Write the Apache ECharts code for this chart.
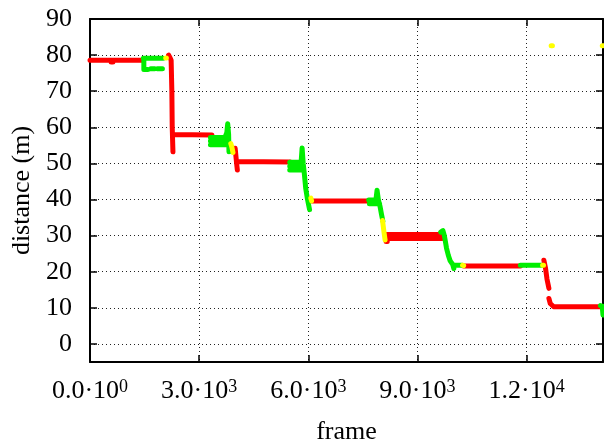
<!DOCTYPE html>
<html>
<head>
<meta charset="utf-8">
<script src="https://cdn.jsdelivr.net/npm/echarts@6/dist/echarts.min.js"></script>
<style>html,body{margin:0;padding:0;background:#fff}#c{width:604px;height:446px}</style>
</head>
<body>
<div id="c"></div>
<script>
// x tick values and their labels (mantissa · 10^exponent)
var xTickValues = [0, 3000, 6000, 9000, 12000];
var xTickMant = ['0.0', '3.0', '6.0', '9.0', '1.2'];
var xTickExp = ['0', '3', '3', '3', '4'];
var yTickValues = [0, 10, 20, 30, 40, 50, 60, 70, 80, 90];

// red segments (null = break)
var redData = [
  [0, 78.6], [1460, 78.6], null,
  [580, 78.1], [630, 78.1], null,
  [2160, 80], [2200, 79.3], [2230, 78.6], [2250, 70], [2260, 60], [2280, 53.2], null,
  [2265, 58], [3350, 57.9], null,
  [3990, 54.2], [4030, 50], [4050, 48.2], null,
  [4030, 50.5], [5500, 50.4], null,
  [6100, 39.6], [7660, 39.6], null,
  [8120, 30.3], [9680, 30.3], null,
  [8120, 29.2], [9680, 29.2], null,
  [8140, 28.4], [8170, 28.4], null,
  [10270, 21.6], [11830, 21.6], null,
  [12475, 23.2], [12520, 21], [12560, 18], [12613, 15.4], null,
  [12613, 12.6], [12650, 11.2], [12745, 10.3], [14040, 10.3]
];

// green segments
var greenData = [
  [1465, 79.1], [2010, 79.1], null,
  [1480, 78.5], [1480, 76], [1590, 76], null,
  [1670, 76.2], [1780, 76.2], null,
  [1850, 76.2], [1990, 76.2], null,
  [3310, 57.2], [3720, 57.2], null,
  [3310, 56.2], [3720, 56.2], null,
  [3310, 55.2], [3720, 55.2], null,
  [3720, 57.5], [3760, 58.5], [3785, 61], [3810, 58], [3820, 53.2], null,
  [5490, 50.3], [5820, 50.3], null,
  [5490, 49.2], [5820, 49.2], null,
  [5490, 48.2], [5820, 48.2], null,
  [5800, 50], [5830, 54.3], [5860, 50], [5890, 47.2], [5930, 43], [5970, 40.5], [6000, 39], [6035, 37.2], null,
  [7660, 39.9], [7870, 39.9], null,
  [7680, 38.8], [7960, 38.8], null,
  [7860, 40], [7890, 42.6], [7925, 40], [7970, 38.2], [8010, 36], [8050, 34], null,
  [9640, 31], [9700, 31.4], [9740, 30], [9800, 26.5], [9850, 24.5], [9900, 23], [9970, 22], [10000, 20.9], null,
  [9990, 21.8], [10230, 21.8], null,
  [11830, 21.8], [12430, 21.8], null,
  [14030, 10.6], [14100, 10.4], null,
  [14080, 10.2], [14100, 8]
];

// yellow segments
var yellowData = [
  [2080, 79.2], [2100, 79.2], null,
  [3870, 55.5], [3900, 54.5], [3930, 53], null,
  [6070, 40.4], [6090, 39.6], null,
  [8040, 34.2], [8080, 31], [8110, 28.8], null,
  [10240, 21.8], [10270, 21.7], null,
  [12440, 21.8], [12465, 21.8], null,
  [12675, 82.6], [12710, 82.6], null,
  [14080, 82.6], [14100, 82.6]
];

function toSeriesData(arr) {
  return arr.map(function (p) { return p === null ? '-' : p; });
}

var serif = '"Liberation Serif", "DejaVu Serif", serif';
var chart = echarts.init(document.getElementById('c'), null, { renderer: 'canvas' });

var axisLineStyle = { show: true, onZero: false, lineStyle: { color: '#000', width: 2 } };
var tickStyle = { show: true, inside: true, length: 7, lineStyle: { color: '#000', width: 1.5 } };
var gridLine = { show: true, lineStyle: { color: '#222', width: 1, type: [1, 3] } };

function lineSeries(name, data, color, width) {
  return {
    name: name,
    type: 'line',
    data: toSeriesData(data),
    connectNulls: false,
    showSymbol: false,
    symbol: 'none',
    animation: false,
    lineStyle: { color: color, width: width, cap: 'round', join: 'round' },
    z: 3
  };
}

chart.setOption({
  animation: false,
  backgroundColor: '#fff',
  grid: { left: 90, top: 19, right: 1, bottom: 84, containLabel: false, outerBoundsMode: 'none' },
  xAxis: [{
    type: 'value', min: 0, max: 14100, interval: 3000,
    name: 'frame', nameLocation: 'middle', nameGap: 57,
    nameTextStyle: { fontFamily: serif, fontSize: 26, color: '#000' },
    axisLine: axisLineStyle, axisTick: tickStyle, splitLine: gridLine,
    axisLabel: {
      margin: 16, showMaxLabel: false,
      formatter: function (v) {
        var i = xTickValues.indexOf(v);
        if (i < 0) return '';
        return '{m|' + xTickMant[i] + '·10}{s|' + xTickExp[i] + '}';
      },
      rich: {
        m: { fontFamily: serif, fontSize: 26, color: '#000', lineHeight: 26 },
        s: { fontFamily: serif, fontSize: 18, color: '#000', lineHeight: 16, verticalAlign: 'top' }
      }
    }
  }, {
    type: 'value', position: 'top', min: 0, max: 14100, interval: 3000,
    axisLine: axisLineStyle, axisTick: tickStyle, splitLine: { show: false },
    axisLabel: { show: false }
  }],
  yAxis: [{
    type: 'value', min: -5, max: 90, splitNumber: 10,
    name: 'distance (m)', nameLocation: 'middle', nameGap: 54, nameRotate: 90,
    nameTextStyle: { fontFamily: serif, fontSize: 26, color: '#000' },
    axisLine: axisLineStyle, axisTick: tickStyle, splitLine: gridLine,
    axisLabel: {
      margin: 18, fontFamily: serif, fontSize: 26, color: '#000',
      formatter: function (v) { return yTickValues.indexOf(v) >= 0 ? String(v) : ''; }
    }
  }, {
    type: 'value', position: 'right', min: -5, max: 90, splitNumber: 10,
    axisLine: axisLineStyle, axisTick: tickStyle, splitLine: { show: false },
    axisLabel: { show: false }
  }],
  series: [
    lineSeries('red', redData, '#ff0000', 5),
    lineSeries('green', greenData, '#00ee00', 5),
    lineSeries('yellow', yellowData, '#ffff00', 5)
  ]
});
</script>
</body>
</html>
